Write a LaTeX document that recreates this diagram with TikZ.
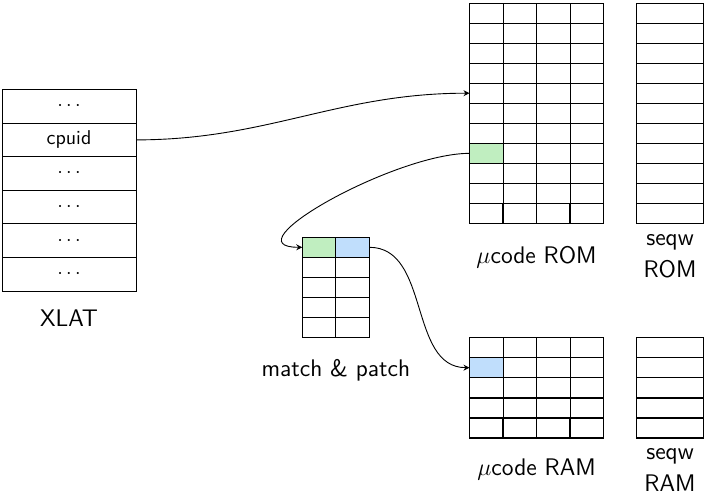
\documentclass[tikz,border=0pt]{standalone}
\usetikzlibrary{arrows.meta}
\definecolor{cellgreen}{RGB}{192,238,192}
\definecolor{cellblue}{RGB}{192,222,252}
\begin{document}
\sffamily
\begin{tikzpicture}[x=0.5pt,y=-0.5pt,
  grid/.style={draw, line width=0.45pt, inner sep=0pt, outer sep=0pt, anchor=north west},
  cell/.style={grid, minimum width=16.75pt, minimum height=10pt},
  xcell/.style={grid, minimum width=67pt, minimum height=16.8pt, font=\normalsize},
  scell/.style={grid, minimum width=33.3pt, minimum height=10pt},
  lastrow/.style={line width=0.75pt},
  lbl/.style={font=\large, align=center, inner sep=0pt},
  arr/.style={-{Stealth[length=3pt,width=3pt]}, line width=0.45pt}]
\useasboundingbox (0,0) rectangle (706,496);
% XLAT
\foreach \i/\t in {0/{$\cdots$},1/{cpuid},2/{$\cdots$},3/{$\cdots$},4/{$\cdots$},5/{$\cdots$}}
  \node[xcell] (x\i) at (2,89.5+\i*33.6) {\t};
\node[lbl] (xlatlbl) at (69,318) {XLAT};
% ucode ROM
\foreach \r in {0,...,10}
  \foreach \c in {0,...,3}
    \node[cell] (rom-\r-\c) at (469.5+\c*33.5,3+\r*20.05) {};
\foreach \c in {0,...,3} \node[cell,lastrow] at (rom-10-\c.north west) {};
\node[cell,fill=cellgreen] at (rom-7-0.north west) {};
\node[lbl] (romlbl) at (536.5,257) {$\mu$code ROM};
% seqw ROM
\foreach \r in {0,...,10}
  \node[scell] (srom-\r) at (636.7,3+\r*20.05) {};
\node[scell,lastrow] at (srom-10.north west) {};
\node[lbl] (sromlbl) at (670,256) {seqw\\[2pt]ROM};
% match & patch
\foreach \r in {0,...,4}
  \foreach \c in {0,1}
    \node[cell] (mp-\r-\c) at (302.3+\c*33.5,237.3+\r*20) {};
\node[cell,fill=cellgreen] at (mp-0-0.north west) {};
\node[cell,fill=cellblue] at (mp-0-1.north west) {};
\node[lbl] (mplbl) at (335.8,370) {match \& patch};
% ucode RAM
\foreach \r in {0,...,4}
  \foreach \c in {0,...,3}
    \node[cell] (ram-\r-\c) at (469.5+\c*33.5,337.5+\r*20.15) {};
\foreach \c in {0,...,3} \node[cell,lastrow] at (ram-4-\c.north west) {};
\node[cell,fill=cellblue] at (ram-1-0.north west) {};
\node[lbl] (ramlbl) at (536.5,470) {$\mu$code RAM};
% seqw RAM
\foreach \r in {0,...,4}
  \node[scell] (sram-\r) at (636.7,337.5+\r*20.15) {};
\node[scell,lastrow] at (sram-4.north west) {};
\node[lbl] (sramlbl) at (670,470) {seqw\\[2pt]RAM};
% connectors
\draw[arr] (x1.east) to[out=0,in=180] (rom-4-0.west);
\draw[arr] (rom-7-0.west) to[out=180,in=180] (mp-0-0.west);
\draw[arr] (mp-0-1.east) to[out=0,in=180] (ram-1-0.west);
\end{tikzpicture}
\end{document}
